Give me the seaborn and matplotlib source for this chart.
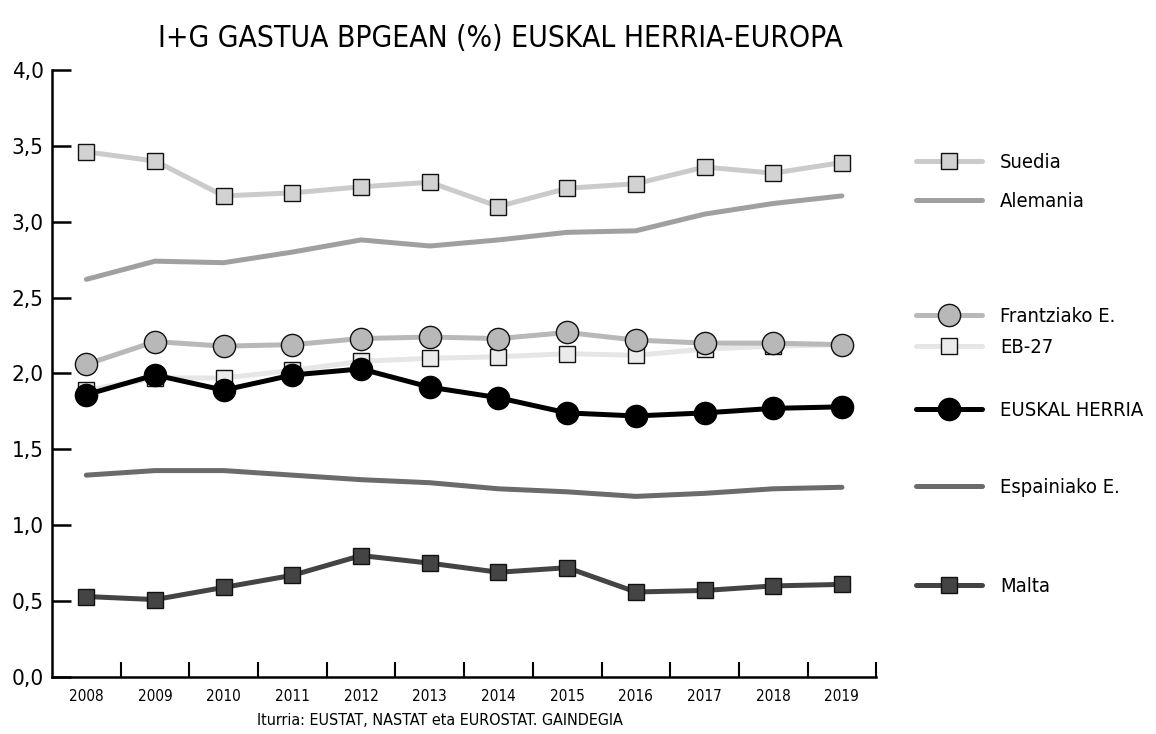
import matplotlib
matplotlib.use('Agg')
import pandas as pd
import seaborn as sns
from matplotlib import pyplot as plt
from matplotlib.lines import Line2D
from matplotlib.ticker import FixedLocator, FixedFormatter

YEARS = [2008, 2009, 2010, 2011, 2012, 2013, 2014, 2015, 2016, 2017, 2018, 2019]

SUEDIA = [3.46, 3.40, 3.17, 3.19, 3.23, 3.26, 3.10, 3.22, 3.25, 3.36, 3.32, 3.39]
ALEMANIA = [2.62, 2.74, 2.73, 2.80, 2.88, 2.84, 2.88, 2.93, 2.94, 3.05, 3.12, 3.17]
FRANTZIA = [2.06, 2.21, 2.18, 2.19, 2.23, 2.24, 2.23, 2.27, 2.22, 2.20, 2.20, 2.19]
EB27 = [1.89, 1.97, 1.97, 2.02, 2.08, 2.10, 2.11, 2.13, 2.12, 2.16, 2.18, 2.19]
EUSKAL_HERRIA = [1.86, 1.99, 1.89, 1.99, 2.03, 1.91, 1.84, 1.74, 1.72, 1.74, 1.77, 1.78]
ESPAINIA = [1.33, 1.36, 1.36, 1.33, 1.30, 1.28, 1.24, 1.22, 1.19, 1.21, 1.24, 1.25]
MALTA = [0.53, 0.51, 0.59, 0.67, 0.80, 0.75, 0.69, 0.72, 0.56, 0.57, 0.60, 0.61]

Y_TICKS = [0.0, 0.5, 1.0, 1.5, 2.0, 2.5, 3.0, 3.5, 4.0]
Y_TICK_LABELS = ['0,0', '0,5', '1,0', '1,5', '2,0', '2,5', '3,0', '3,5', '4,0']

TITLE = 'I+G GASTUA BPGEAN (%) EUSKAL HERRIA-EUROPA'
SOURCE = 'Iturria: EUSTAT, NASTAT eta EUROSTAT. GAINDEGIA'

# izena, balioak, estiloa, legendaren y posizioa (figura)
SERIES = [
    ('Alemania', ALEMANIA, dict(color='#a0a0a0', lw=3.6), 0.726),
    ('Suedia', SUEDIA, dict(color='#cbcbcb', lw=3.6, marker='s', ms=11,
                            mfc='#d2d2d2', mec='#111111', mew=1.0), 0.779),
    ('Espainiako E.', ESPAINIA, dict(color='#6b6b6b', lw=3.6), 0.336),
    ('Malta', MALTA, dict(color='#444444', lw=3.6, marker='s', ms=11,
                          mfc='#444444', mec='#111111', mew=1.0), 0.201),
    ('EB-27', EB27, dict(color='#e6e6e6', lw=3.6, marker='s', ms=11,
                         mfc='#ebebeb', mec='#111111', mew=1.0), 0.526),
    ('Frantziako E.', FRANTZIA, dict(color='#b8b8b8', lw=3.6, marker='o', ms=16,
                                     mfc='#b8b8b8', mec='#111111', mew=1.0), 0.569),
    ('EUSKAL HERRIA', EUSKAL_HERRIA, dict(color='#000000', lw=3.6, marker='o', ms=16,
                                          mfc='#000000', mec='#000000', mew=1.0), 0.441),
]

sns.set_theme(style='white')
plt.rcParams['font.family'] = ['DejaVu Sans']
plt.rcParams['font.stretch'] = 'condensed'
plt.rcParams['text.color'] = 'black'
plt.rcParams['xtick.color'] = 'black'
plt.rcParams['ytick.color'] = 'black'

fig = plt.figure(figsize=(11.56, 7.34), dpi=100)
ax = fig.add_axes([0.045, 0.0777, 0.713, 0.827])

frames = []
for name, values, _, _ in SERIES:
    frames.append(pd.DataFrame({'urtea': YEARS, 'balioa': values, 'seriea': name}))
df = pd.concat(frames, ignore_index=True)

for z, (name, _, style, _) in enumerate(SERIES):
    sub = df[df['seriea'] == name]
    sns.lineplot(data=sub, x='urtea', y='balioa', ax=ax, zorder=3 + z, **style)

ax.set_xlim(YEARS[0] - 0.5, YEARS[-1] + 0.5)
ax.set_ylim(Y_TICKS[0], Y_TICKS[-1])
ax.set_xlabel('')
ax.set_ylabel('')

ax.yaxis.set_major_locator(FixedLocator(Y_TICKS))
ax.yaxis.set_major_formatter(FixedFormatter(Y_TICK_LABELS))
ax.set_xticks(YEARS)
ax.set_xticklabels([str(y) for y in YEARS])
ax.xaxis.set_minor_locator(FixedLocator([y + 0.5 for y in YEARS]))

ax.tick_params(axis='y', direction='in', length=14, width=1.8, color='black',
               pad=6, labelsize=16, left=True)
ax.tick_params(axis='x', which='major', length=0, pad=9, labelsize=11)
ax.tick_params(axis='x', which='minor', direction='in', length=11, width=1.5,
               color='black', bottom=True)

for side in ['top', 'right']:
    ax.spines[side].set_visible(False)
for side in ['left', 'bottom']:
    ax.spines[side].set_color('black')
    ax.spines[side].set_linewidth(1.8)

# legenda: sarrera bakoitza bere lekuan
legends = []
for name, _, style, ypos in SERIES:
    handle = Line2D([], [], **style)
    leg = ax.legend(handles=[handle], labels=[name], loc='center left',
                    bbox_to_anchor=(0.792, ypos), bbox_transform=fig.transFigure,
                    frameon=False, fontsize=14.5, handlelength=3.3, handletextpad=0.9,
                    borderpad=0, borderaxespad=0)
    legends.append(leg)
for leg in legends[:-1]:
    ax.add_artist(leg)

fig.text(0.433, 0.947, TITLE, ha='center', va='center', fontsize=21.5)
fig.text(0.381, 0.018, SOURCE, ha='center', va='center', fontsize=11.5)

fig.savefig('out.png', dpi=100)
